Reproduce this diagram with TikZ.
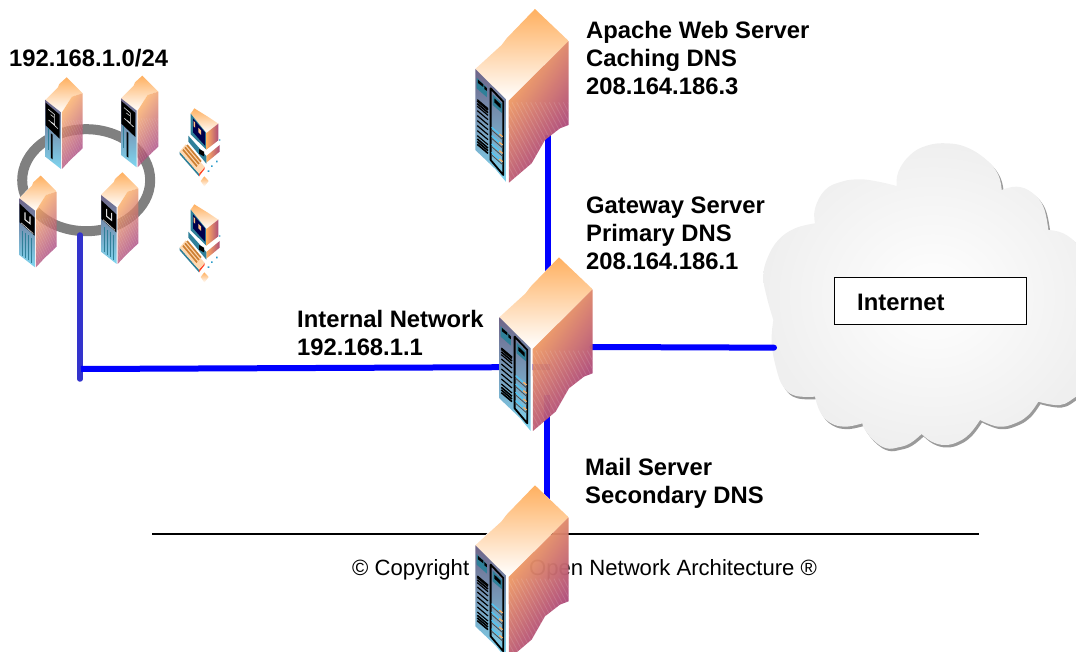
\documentclass[tikz,border=0pt]{standalone}
\usepackage{fontspec}
\usetikzlibrary{shapes.geometric}
\setmainfont{Liberation Sans}
\definecolor{srvorange}{HTML}{FFB060}
\definecolor{srvpeach}{HTML}{FFD8B0}
\definecolor{srvmid}{HTML}{D88A66}
\definecolor{srvpurple}{HTML}{9C3480}
\definecolor{srvgrey}{HTML}{6F6488}
\definecolor{srvblue}{HTML}{7F8FAA}
\definecolor{srvcyan}{HTML}{7FD6F0}
\definecolor{srvteal}{HTML}{2F8099}
\definecolor{ringgrey}{HTML}{808080}
\definecolor{internalblue}{HTML}{3333CC}
\definecolor{cloudedge}{HTML}{EFEFEF}
\definecolor{cloudshadow}{HTML}{9A9A9A}
\newcommand\cloudpath{(70,570)
 -- plot[smooth,tension=.7] coordinates {(70,570)(50,500)(40,440)(52,385)(85,330)(135,295)(195,280)}
 -- plot[smooth,tension=.7] coordinates {(195,280)(195,235)(225,180)(275,155)(330,148)(385,155)(440,168)}
 -- plot[smooth,tension=.7] coordinates {(440,168)(445,125)(480,75)(530,47)(590,40)(650,52)(710,90)(745,135)(755,180)}
 -- plot[smooth,tension=.7] coordinates {(755,180)(800,170)(845,187)(880,230)(895,300)}
 -- plot[smooth,tension=.7] coordinates {(895,300)(940,310)(985,345)(1030,400)(1050,500)(1050,700)(1020,770)(978,800)(930,825)(865,815)}
 -- plot[smooth,tension=.7] coordinates {(865,815)(835,855)(795,880)(745,890)(690,870)}
 -- plot[smooth,tension=.7] coordinates {(690,870)(660,910)(625,935)(585,945)(545,935)(515,912)}
 -- plot[smooth,tension=.7] coordinates {(515,912)(480,940)(445,952)(410,955)(375,935)(345,900)(337,880)}
 -- plot[smooth,tension=.7] coordinates {(337,880)(285,890)(240,878)(210,845)(195,800)}
 -- plot[smooth,tension=.7] coordinates {(195,800)(135,797)(100,770)(80,720)(65,640)(70,570)} -- cycle}
\tikzset{
 x=1pt,y=-1pt,
 lbl/.style={anchor=north west,inner sep=0pt,align=left,font=\fontsize{23.8}{28}\selectfont\bfseries},
 link/.style={draw=blue,line width=6pt,line cap=round},
 topface/.style={top color=srvorange,middle color=srvpeach,bottom color=white},
 rightface/.style={top color=srvorange,middle color=srvmid,bottom color=srvpurple,shading angle=55,opacity=.96},
 leftface/.style={top color=srvgrey,middle color=srvblue,bottom color=srvcyan},
 bigserver/.pic={
  \begin{scope}[scale=1/3]
   \fill[white] (0,0)--(179,-180)--(280,-84)--(100,93)--(100,341)--(94,341)--(0,243)--cycle;
   \shade[topface] (0,0)--(79,-72)--(94,-92)--(179,-180)--(280,-84)--(100,93)--(94,93)--cycle;
   \shade[leftface] (0,0)--(94,93)--(94,341)--(60,300)--(0,243)--cycle;
   \shade[rightface] (100,95)--(280,-84)--(280,168)--(254,178)--(209,213)--(169,283)--(101,341)--cycle;
   \begin{scope}
    \clip (100,95)--(280,-84)--(280,168)--(254,178)--(209,213)--(169,283)--(101,341)--cycle;
    \foreach \k in {0,14,...,560} \draw[white,opacity=.13,line width=.8pt] (100+\k,345)--(\k-30,100);
   \end{scope}
   \fill[srvteal] (4,26)--(35,56)--(35,85)--(4,58)--cycle;
   \fill[black] (8,32)--(24,46)--(24,54)--(8,42)--cycle (27,50)--(35,58)--(35,66)--(27,60)--cycle;
   \foreach \y in {92,112,125,140,155,170,185,200} \draw[line width=1.2pt,black] (6,\y)--(38,\y+27);
   \foreach \y in {96,104,210,218,226} \draw[line width=1.6pt,black] (6,\y)--(38,\y+27);
   \draw[black,line width=1.8pt,line join=round] (46,58)--(84,98)--(84,318)--(46,273)--cycle;
   \fill[srvteal] (52,76)--(80,104)--(80,132)--(52,108)--cycle;
   \fill[black] (57,88)--(76,106)--(76,118)--(57,100)--cycle;
   \foreach \y in {175,200,225,250} {
    \draw[cyan!70!white,line width=1.2pt] (49,\y)--(72,\y+20);
    \draw[srvorange,line width=1.2pt] (72,\y+20)--(82,\y+28);
    \draw[black!70,line width=.8pt] (49,\y+8)--(82,\y+37);
   }
  \end{scope}
 },
 smallbody/.pic={
  \begin{scope}[scale=1/3]
   \fill[white] (0,0)--(64,-68)--(112,-20)--(50,37)--(50,207)--(47,207)--(0,170)--cycle;
   \shade[topface] (0,0)--(38,-38)--(42,-48)--(64,-68)--(112,-20)--(80,-10)--(50,37)--(47,37)--cycle;
   \shade[leftface] (0,0)--(47,37)--(47,207)--(0,170)--cycle;
   \shade[rightface,opacity=.78] (50,37)--(80,-10)--(112,-20)--(112,145)--(75,180)--(50,207)--cycle;
   \begin{scope}
    \clip (50,37)--(80,-10)--(112,-20)--(112,145)--(75,180)--(50,207)--cycle;
    \foreach \k in {0,8,...,240} \draw[white,opacity=.13,line width=.5pt] (50+\k,210)--(\k-20,60);
   \end{scope}
  \end{scope}
 },
 smalla/.pic={
  \pic {smallbody};
  \begin{scope}[scale=1/3]
   \fill[black] (1,8)--(43,44)--(43,116)--(1,76)--cycle;
   \draw[white!75!gray,line width=.6pt] (9,28)--(28,44)--(28,74)--(18,66) (10,60)--(38,86);
   \draw[white!75!gray,line width=.6pt] (16,44)--(26,52);
   \fill[black] (17,100)--(22,104)--(22,178)--(17,174)--cycle;
   \draw[srvteal,line width=.6pt] (8,84)--(8,150);
  \end{scope}
 },
 smallb/.pic={
  \pic {smallbody};
  \begin{scope}[scale=1/3]
   \fill[black] (1,16)--(46,58)--(46,112)--(1,72)--cycle;
   \draw[white!75!gray,line width=1.1pt] (17,42)--(17,64)--(32,76)--(32,54);
   \draw[white!75!gray,line width=.6pt] (6,74)--(42,106);
   \foreach \q in {9,18,27,36} \draw[srvteal,line width=.7pt] (\q,90+\q*.8)--(\q,165+\q*.8);
  \end{scope}
 },
 pcicon/.pic={
  \begin{scope}[scale=1/3]
   \shade[left color=srvorange,right color=srvpurple!70!srvmid] (112,165)--(152,132)--(152,152)--(112,185)--cycle;
   \fill[srvteal] (58,104)--(112,165)--(112,188)--(58,122)--cycle;
   \shade[topface] (65,38)--(76,22)--(118,48)--(148,68)--(112,96)--cycle;
   \fill[srvteal] (65,38)--(112,96)--(112,146)--(65,100)--cycle;
   \fill[black!70!blue] (72,52)--(108,94)--(108,134)--(72,94)--cycle;
   \fill[srvorange!80!white] (74,60)--(78,64)--(78,80)--(74,76)--cycle (88,80)--(96,88)--(96,102)--(88,94)--cycle;
   \shade[left color=srvorange,right color=srvpurple!70!srvmid] (112,96)--(148,68)--(148,118)--(112,146)--cycle;
   \fill[black] (90,144)--(105,152)--(105,166)--(90,158)--cycle;
   \fill[srvteal] (32,152)--(90,218)--(90,226)--(32,160)--cycle;
   \fill[red!60!srvorange] (90,218)--(107,198)--(107,204)--(90,226)--cycle;
   \fill[srvpeach] (32,152)--(50,130)--(107,198)--(90,218)--cycle;
   \foreach \i in {0,1,2} \draw[brown!80!orange,line width=1.7pt] (42+\i*6,146-\i*7)--(84+\i*6,196-\i*7);
   \fill[cyan!60!teal] (116,208)--(121,208)--(121,213)--(116,213)--cycle
     (126,193)--(131,193)--(131,198)--(126,198)--cycle
     (141,179)--(146,179)--(146,184)--(141,184)--cycle
     (150,115)--(154,115)--(154,119)--(150,119)--cycle;
   \shade[topface] (95,240)--(106,226)--(119,240)--(106,257)--cycle;
  \end{scope}
 }
}
\begin{document}
\begin{tikzpicture}
\useasboundingbox (0,0) rectangle (1076,652);
\clip (0,0) rectangle (1076,652);
% cloud
\begin{scope}[shift={(752,132.5)},scale=1/3]
 \fill[cloudshadow] \cloudpath;
\end{scope}
\begin{scope}[shift={(750,130)},scale=1/3]
 \shade[inner color=white,outer color=cloudedge] \cloudpath;
 \coordinate (cloudport) at (72,653);
\end{scope}
\node[draw=black,line width=1.3pt,fill=white,minimum width=192pt,minimum height=47pt,inner sep=0pt] (inetbox) at (930.5,301) {};
\node[lbl,anchor=base west] (inet) at (857,310) {Internet};
% rule and copyright
\coordinate (ruleL) at (152,534);
\coordinate (ruleR) at (979,534);
\draw[black,line width=1.3pt] (ruleL) -- (ruleR);
\node[anchor=base west,inner sep=0pt,font=\fontsize{22.1}{26}\selectfont] (copy) at (352,575) {© Copyright\hspace{60pt}Open Network Architecture ®};
% connectors anchors
\coordinate (webport) at (548,135);
\coordinate (gwtop) at (548,275);
\coordinate (gwbot) at (547,395);
\coordinate (mailport) at (547,505);
\coordinate (gwleft) at (550,367);
\coordinate (hub) at (81,369);
\coordinate (gwright) at (592.5,347);
\coordinate (ringport) at (80,235);
\coordinate (ringfoot) at (80,379);
% ring
\node[draw=ringgrey,line width=10pt,ellipse,minimum width=128pt,minimum height=102pt,inner sep=0pt] (ring) at (86.2,180.2) {};
\draw[draw=internalblue,line width=5.5pt,line cap=round] (ringport) -- (ringfoot);
\draw[link,line cap=butt] (webport) -- (gwtop);
\draw[link,line cap=butt] (gwbot) -- (mailport);
\draw[link,line cap=butt] (hub) -- (gwleft);
\draw[link] (gwright) -- (cloudport);
% servers
\pic (web) at (475.3,69) {bigserver};
\pic (gw) at (499.3,317.3) {bigserver};
\pic (mail) at (475.3,545.3) {bigserver};
\pic (s1) at (45.3,100) {smalla};
\pic (s2) at (121,98.3) {smalla};
\pic (s3) at (19.3,198.3) {smallb};
\pic (s4) at (101,195) {smallb};
\pic (pc1) at (169,101) {pcicon};
\pic (pc2) at (169,197) {pcicon};
% labels
\node[lbl] (l1) at (9,49.5) {192.168.1.0/24};
\node[lbl] (l2) at (586,21.5) {Apache Web Server\\Caching DNS\\208.164.186.3};
\node[lbl] (l3) at (586,196.5) {Gateway Server\\Primary DNS\\208.164.186.1};
\node[lbl] (l4) at (297,310) {Internal Network\\192.168.1.1};
\node[lbl] (l5) at (585,458) {Mail Server\\Secondary DNS};
\end{tikzpicture}
\end{document}
